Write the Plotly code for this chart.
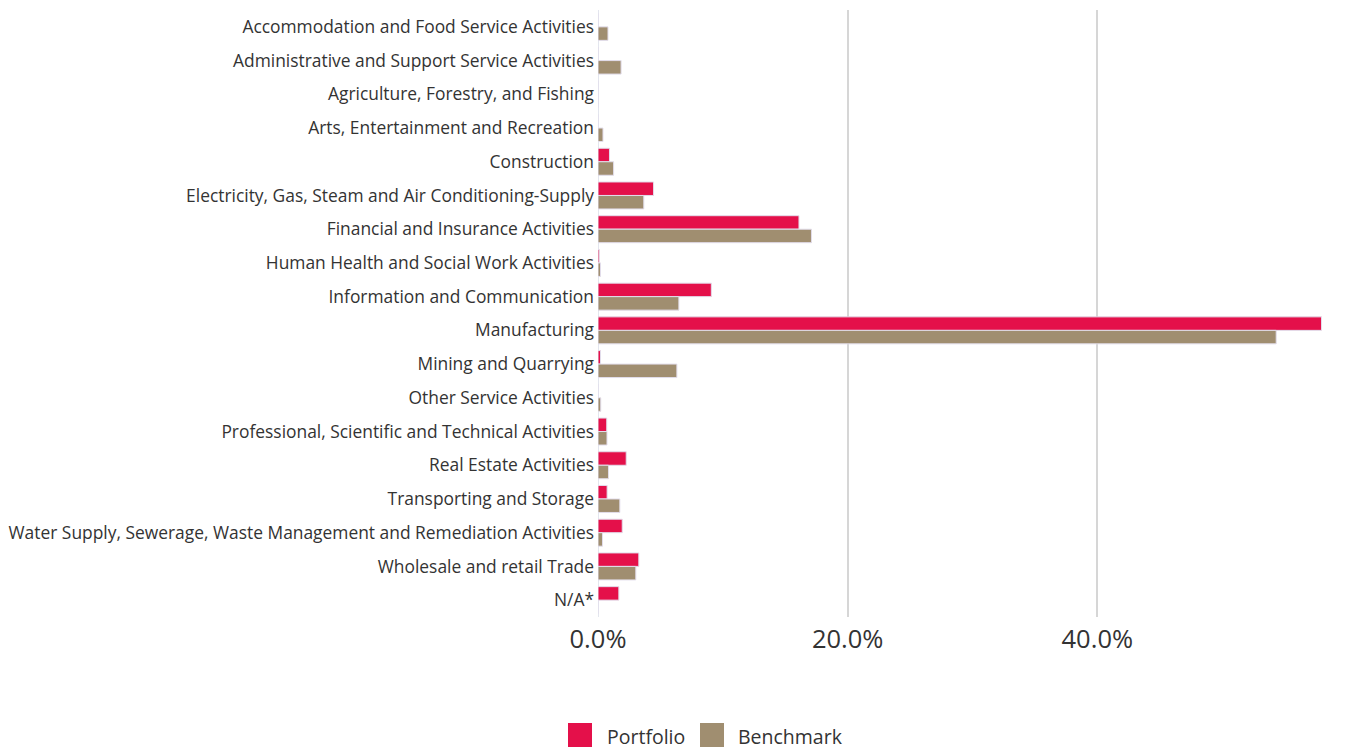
import plotly.graph_objects as go

categories = [
    "Accommodation and Food Service Activities",
    "Administrative and Support Service Activities",
    "Agriculture, Forestry, and Fishing",
    "Arts, Entertainment and Recreation",
    "Construction",
    "Electricity, Gas, Steam and Air Conditioning-Supply",
    "Financial and Insurance Activities",
    "Human Health and Social Work Activities",
    "Information and Communication",
    "Manufacturing",
    "Mining and Quarrying",
    "Other Service Activities",
    "Professional, Scientific and Technical Activities",
    "Real Estate Activities",
    "Transporting and Storage",
    "Water Supply, Sewerage, Waste Management and Remediation Activities",
    "Wholesale and retail Trade",
    "N/A*",
]
portfolio = [0.0, 0.0, 0.0, 0.0, 0.92, 4.45, 16.1, 0.1, 9.08, 57.96, 0.2, 0.0,
             0.7, 2.26, 0.73, 1.94, 3.27, 1.67]
benchmark = [0.8, 1.85, 0.0, 0.4, 1.25, 3.67, 17.1, 0.2, 6.48, 54.33, 6.32, 0.22,
             0.72, 0.84, 1.75, 0.36, 3.03, 0.0]
series_names = ["Portfolio", "Benchmark"]

RED = "#E4104A"
TAN = "#A08E70"
OUTLINE = "#E2DDEB"
TEXT = "#333333"

W, H = 1345, 750
ML, MR, MT, MB = 598, 23, 10, 133
PW, PH = W - ML - MR, H - MT - MB


def px_x(x):
    return (x - ML) / PW


def px_y(y):
    return (H - MB - y) / PH


fig = go.Figure()
fig.add_trace(go.Bar(y=categories, x=portfolio, orientation="h", name=series_names[0],
                     marker=dict(color=RED, line=dict(color=OUTLINE, width=1))))
fig.add_trace(go.Bar(y=categories, x=benchmark, orientation="h", name=series_names[1],
                     marker=dict(color=TAN, line=dict(color=OUTLINE, width=1))))

# manual legend with large square swatches
shapes = []
annotations = []
legend_items = [(series_names[0], RED, 568, 606), (series_names[1], TAN, 700, 737)]
for name, col, sx, tx in legend_items:
    shapes.append(dict(type="rect", xref="paper", yref="paper",
                       x0=px_x(sx), x1=px_x(sx + 24), y0=px_y(747), y1=px_y(723),
                       fillcolor=col, line=dict(width=0)))
    annotations.append(dict(text=name, xref="paper", yref="paper", x=px_x(tx), y=px_y(736),
                            xanchor="left", yanchor="middle", showarrow=False, borderpad=0,
                            font=dict(size=19.5, color=TEXT)))

fig.update_layout(
    width=W, height=H,
    margin=dict(l=ML, r=MR, t=MT, b=MB, autoexpand=False),
    paper_bgcolor="white", plot_bgcolor="white",
    barmode="group", bargap=0.2, bargroupgap=0.0,
    font=dict(family="Open Sans", color=TEXT),
    showlegend=False,
    shapes=shapes, annotations=annotations,
)
fig.update_xaxes(range=[0, 58.0], tickvals=[0, 20, 40], ticktext=["0.0%", "20.0%", "40.0%"],
                 tickfont=dict(size=25.5, color=TEXT), showgrid=True, gridcolor="#D6D6D6",
                 gridwidth=2, zeroline=True, zerolinecolor="#E3E6EE", zerolinewidth=1,
                 showline=False, ticks="", ticklabelstandoff=4, automargin=False)
fig.update_yaxes(autorange="reversed", categoryorder="array", categoryarray=categories,
                 tickfont=dict(size=17.4, color=TEXT), showgrid=False, ticks="",
                 ticklabelstandoff=3, automargin=False)

fig.write_html("out.html")
